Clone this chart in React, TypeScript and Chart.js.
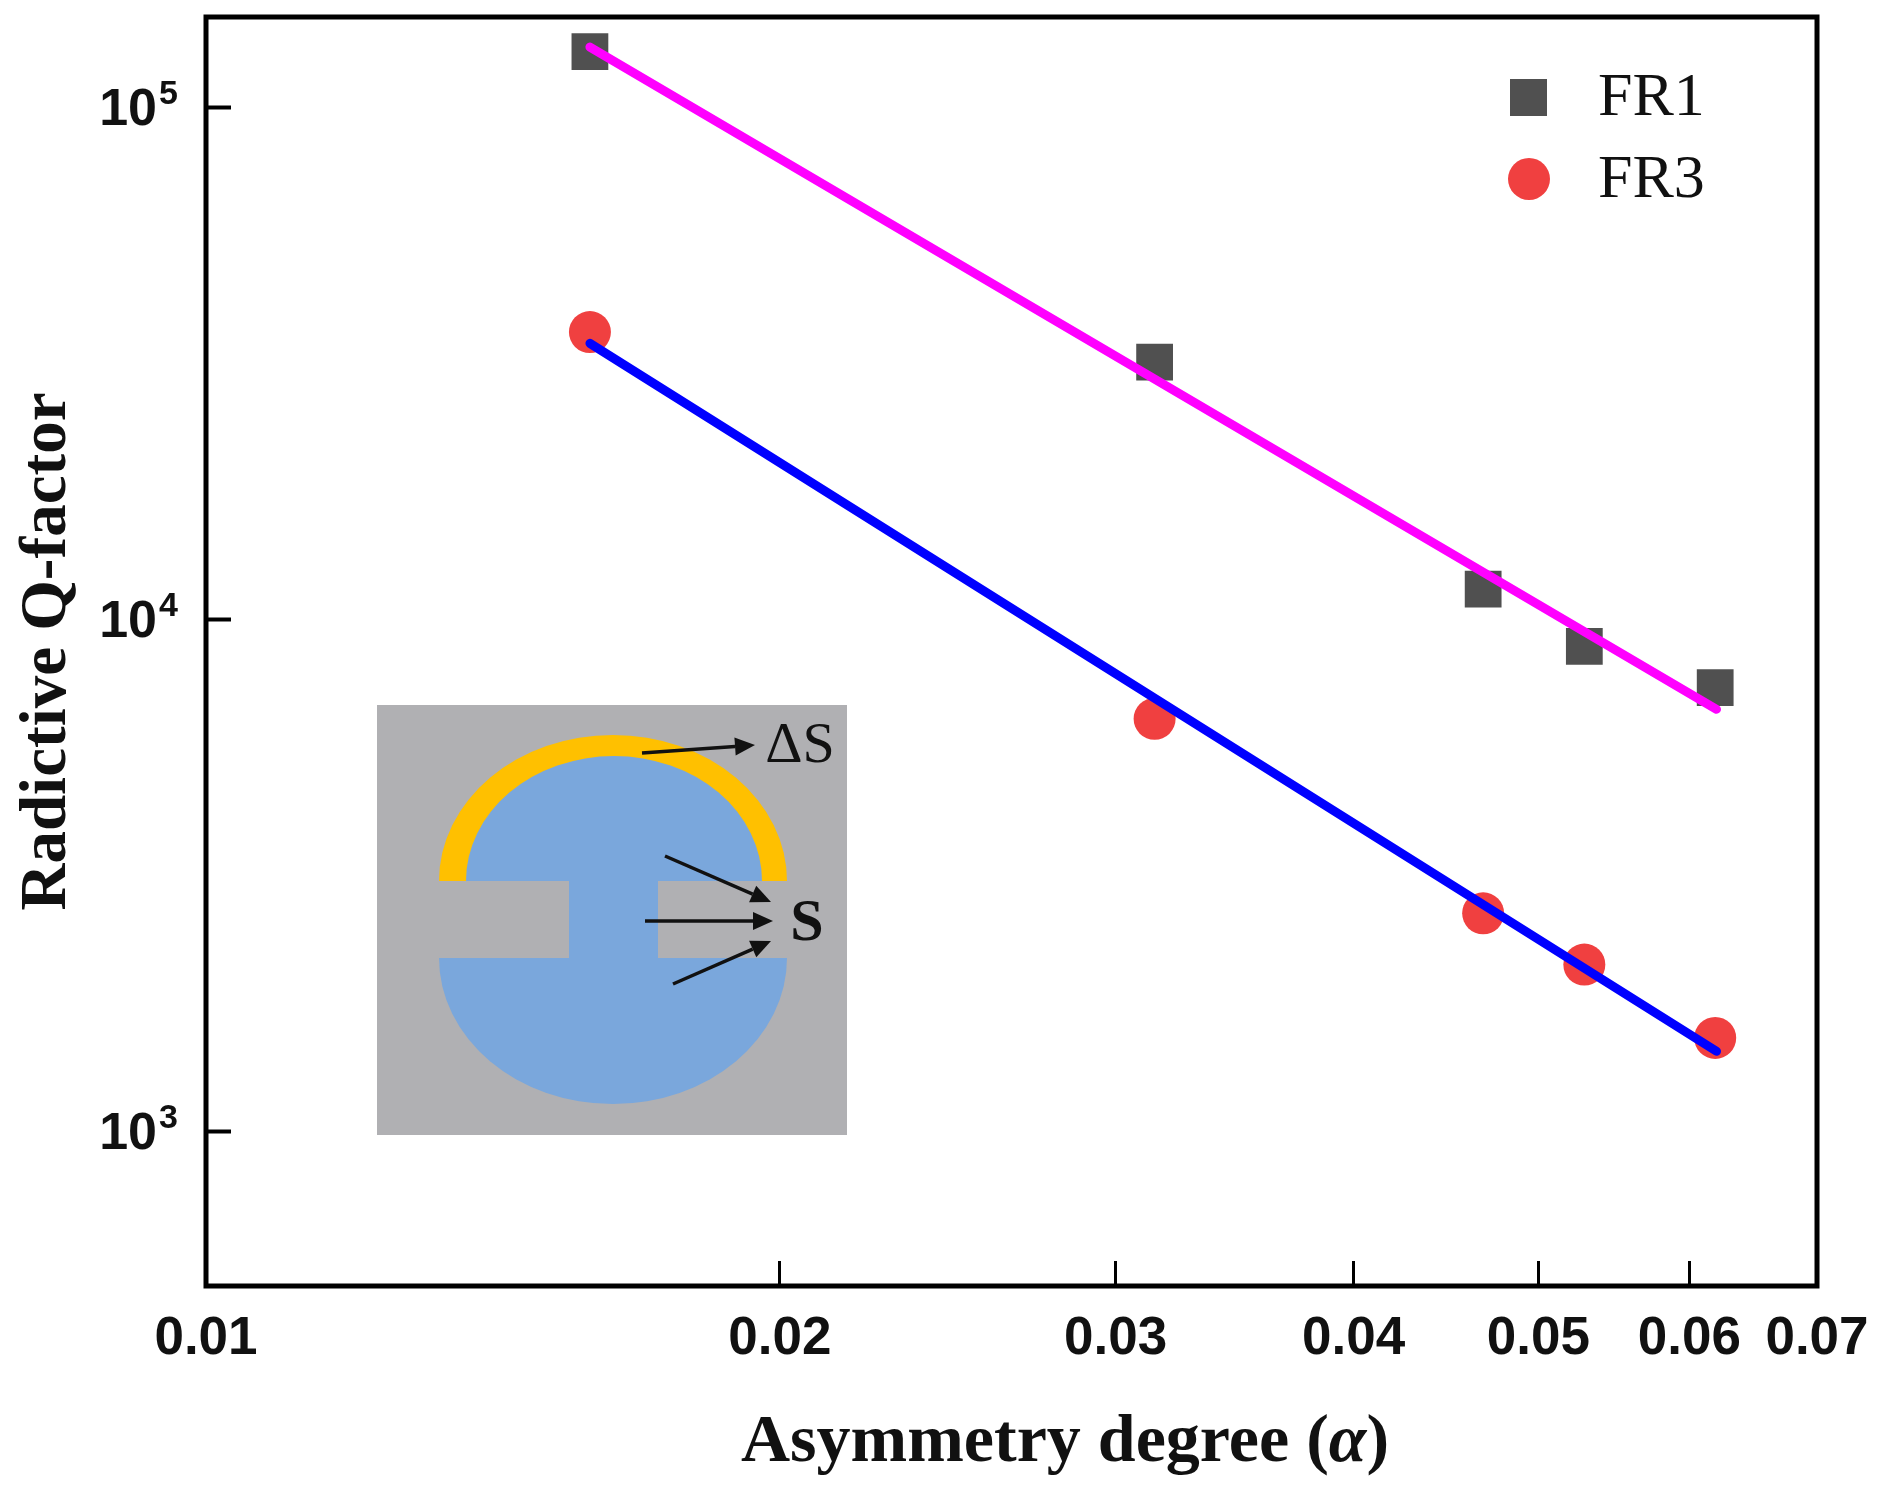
import React, { useEffect, useRef } from "react";
import { Chart, registerables } from "chart.js";

Chart.register(...registerables);

const ALPHA_FR = [0.0159, 0.03145, 0.04677, 0.05285, 0.0619];
const FR1_Q = [128400, 31800, 11460, 8860, 7360];
const FR3_Q = [36400, 6400, 2670, 2120, 1525];
const FIT_ALPHA = [0.0159, 0.062];
const FR1_FIT = [131000, 6680];
const FR3_FIT = [34600, 1436];
const X_TICKS = [0.01, 0.02, 0.03, 0.04, 0.05, 0.06, 0.07];
const Y_TICKS = [1000, 10000, 100000];
const Y_TICK_EXPONENTS = ["3", "4", "5"];
const X_TITLE = "Asymmetry degree (";
const X_TITLE_SYMBOL = "α";
const Y_TITLE = "Radictive Q-factor";

const SERIF = "'Liberation Serif', serif";
const SANS = "'Liberation Sans', sans-serif";

const zip = (xs: number[], ys: number[]) => xs.map((x, i) => ({ x, y: ys[i] }));

function arrow(ctx: CanvasRenderingContext2D, x1: number, y1: number, x2: number, y2: number) {
  const a = Math.atan2(y2 - y1, x2 - x1);
  const head = 20;
  const bx = x2 - head * Math.cos(a);
  const by = y2 - head * Math.sin(a);
  ctx.strokeStyle = "#111";
  ctx.fillStyle = "#111";
  ctx.lineWidth = 3.5;
  ctx.beginPath();
  ctx.moveTo(x1, y1);
  ctx.lineTo(bx, by);
  ctx.stroke();
  ctx.beginPath();
  ctx.moveTo(x2, y2);
  ctx.lineTo(bx - 9 * Math.sin(a), by + 9 * Math.cos(a));
  ctx.lineTo(bx + 9 * Math.sin(a), by - 9 * Math.cos(a));
  ctx.closePath();
  ctx.fill();
}

const zeroPadding = (s: any) => {
  s.paddingTop = 0;
  s.paddingBottom = 0;
  s.paddingLeft = 0;
  s.paddingRight = 0;
};

const framePlugin = {
  id: "frame",
  afterDraw(chart: any) {
    const { ctx, chartArea: a } = chart;
    ctx.save();
    ctx.strokeStyle = "#000";
    ctx.lineWidth = 5;
    ctx.strokeRect(a.left, a.top, a.right - a.left, a.bottom - a.top);
    ctx.restore();
  },
};

const insetPlugin = {
  id: "inset",
  beforeDatasetsDraw(chart: any) {
    const ctx: CanvasRenderingContext2D = chart.ctx;
    const grey = "#b0b0b3";
    const blue = "#7aa7dc";
    ctx.save();
    ctx.fillStyle = grey;
    ctx.fillRect(377, 705, 470, 430);
    ctx.fillStyle = "#ffc000";
    ctx.beginPath();
    ctx.ellipse(613, 881, 174, 146, 0, Math.PI, 2 * Math.PI);
    ctx.fill();
    ctx.fillStyle = blue;
    ctx.beginPath();
    ctx.ellipse(614, 881, 148, 125, 0, Math.PI, 2 * Math.PI);
    ctx.fill();
    ctx.beginPath();
    ctx.ellipse(613, 958, 174, 146, 0, 0, Math.PI);
    ctx.fill();
    ctx.fillRect(569, 880, 89, 79);
    arrow(ctx, 642, 753, 755, 745);
    arrow(ctx, 665, 856, 771, 902);
    arrow(ctx, 645, 921, 773, 921);
    arrow(ctx, 673, 984, 771, 941);
    ctx.fillStyle = "#111";
    ctx.textBaseline = "middle";
    ctx.textAlign = "center";
    ctx.font = `58px ${SERIF}`;
    ctx.fillText("ΔS", 800, 747);
    ctx.font = `bold 60px ${SERIF}`;
    ctx.fillText("S", 807, 924);
    ctx.restore();
  },
};

const labelsPlugin = {
  id: "extraLabels",
  afterDraw(chart: any) {
    const ctx: CanvasRenderingContext2D = chart.ctx;
    ctx.save();
    // legend
    const sets = chart.data.datasets.filter((d: any) => !d.showLine);
    ctx.textBaseline = "middle";
    ctx.textAlign = "left";
    ctx.font = `62px ${SERIF}`;
    sets.forEach((d: any, i: number) => {
      const cy = i === 0 ? 97 : 179;
      ctx.fillStyle = d.backgroundColor;
      if (d.pointStyle === "rect") {
        ctx.fillRect(1510, cy - 18, 37, 37);
      } else {
        ctx.beginPath();
        ctx.arc(1529, cy, 21, 0, 2 * Math.PI);
        ctx.fill();
      }
      ctx.fillStyle = "#111";
      ctx.fillText(d.label, 1598, cy + 2);
    });
    // y tick labels: a base with a raised exponent
    const yScale = chart.scales.y;
    Y_TICKS.forEach((v, i) => {
      const py = yScale.getPixelForValue(v);
      ctx.fillStyle = "#111";
      ctx.textAlign = "right";
      ctx.font = `bold 52px ${SANS}`;
      ctx.fillText("10", 157, py + 3);
      ctx.textAlign = "left";
      ctx.font = `bold 34px ${SANS}`;
      ctx.fillText(Y_TICK_EXPONENTS[i], 159, py - 13);
    });
    // x axis title, with the italic symbol
    ctx.fillStyle = "#111";
    ctx.textBaseline = "middle";
    ctx.textAlign = "left";
    const main = `bold 68px ${SERIF}`;
    const ital = `italic bold 68px ${SERIF}`;
    ctx.font = main;
    const w1 = ctx.measureText(X_TITLE).width;
    const w3 = ctx.measureText(")").width;
    ctx.font = ital;
    const w2 = ctx.measureText(X_TITLE_SYMBOL).width;
    let x = 1065 - (w1 + w2 + w3) / 2;
    ctx.font = main;
    ctx.fillText(X_TITLE, x, 1443);
    x += w1;
    ctx.font = ital;
    ctx.fillText(X_TITLE_SYMBOL, x, 1443);
    x += w2;
    ctx.font = main;
    ctx.fillText(")", x, 1443);
    ctx.restore();
  },
};

export default function App() {
  const ref = useRef<HTMLCanvasElement | null>(null);
  useEffect(() => {
    const chart = new Chart(ref.current as HTMLCanvasElement, {
      type: "scatter",
      data: {
        datasets: [
          { label: "FR1 fit", data: zip(FIT_ALPHA, FR1_FIT), showLine: true, borderColor: "#ff00ff", borderWidth: 9, borderCapStyle: "round", pointRadius: 0, order: 0 },
          { label: "FR3 fit", data: zip(FIT_ALPHA, FR3_FIT), showLine: true, borderColor: "#0000ff", borderWidth: 9, borderCapStyle: "round", pointRadius: 0, order: 0 },
          { label: "FR1", data: zip(ALPHA_FR, FR1_Q), pointStyle: "rect", pointRadius: 26, backgroundColor: "#505050", borderWidth: 0, order: 1 },
          { label: "FR3", data: zip(ALPHA_FR, FR3_Q), pointStyle: "circle", pointRadius: 21, backgroundColor: "#f04040", borderWidth: 0, order: 1 },
        ],
      } as any,
      options: {
        animation: false,
        responsive: false,
        layout: { autoPadding: false, padding: { top: 17, right: 65, left: 0, bottom: 0 } },
        plugins: { legend: { display: false }, tooltip: { enabled: false }, title: { display: false } },
        scales: {
          x: {
            type: "logarithmic",
            min: 0.01,
            max: 0.07,
            afterFit(s: any) { s.height = 206; zeroPadding(s); },
            afterBuildTicks(s: any) { s.ticks = X_TICKS.map((value) => ({ value, major: true })); },
            grid: { drawOnChartArea: false, tickLength: -25, tickWidth: 3, tickColor: "#000" },
            border: { display: false },
            ticks: {
              autoSkip: false,
              maxRotation: 0,
              padding: 47,
              color: "#111",
              font: { family: SANS, weight: "bold", size: 53 },
              callback: (v: any) => Number(v).toFixed(2),
            },
          },
          y: {
            type: "logarithmic",
            min: 500,
            max: 150000,
            afterFit(s: any) { s.width = 206; zeroPadding(s); },
            afterBuildTicks(s: any) { s.ticks = Y_TICKS.map((value) => ({ value, major: true })); },
            grid: { drawOnChartArea: false, tickLength: -25, tickWidth: 4, tickColor: "#000" },
            border: { display: false },
            title: {
              display: true,
              text: Y_TITLE,
              color: "#111",
              padding: { top: 9, bottom: 0 },
              font: { family: SERIF, weight: "bold", size: 65 },
            },
            ticks: { display: false },
          },
        },
      } as any,
      plugins: [insetPlugin, framePlugin, labelsPlugin],
    });
    return () => chart.destroy();
  }, []);
  return (
    <div style={{ position: "absolute", left: 0, top: 0, width: 1882, height: 1492, background: "#fff" }}>
      <canvas ref={ref} width={1882} height={1492} style={{ display: "block" }} />
    </div>
  );
}
